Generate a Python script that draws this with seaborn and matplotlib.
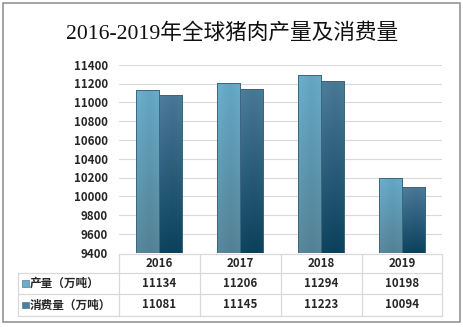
import numpy as np
import pandas as pd
import matplotlib
matplotlib.use("Agg")
import matplotlib.pyplot as plt
from matplotlib.colors import to_rgb
from matplotlib.patches import Rectangle
from matplotlib.lines import Line2D
from matplotlib.transforms import blended_transform_factory
import seaborn as sns

# ---- data ----
years = ['2016', '2017', '2018', '2019']
series_names = ['产量（万吨）', '消费量（万吨）']
production = [11134, 11206, 11294, 10198]
consumption = [11081, 11145, 11223, 10094]
y_ticks = [9400, 9600, 9800, 10000, 10200, 10400, 10600, 10800, 11000, 11200, 11400]
title = '2016-2019年全球猪肉产量及消费量'

df = pd.DataFrame({
    'year': years * 2,
    'series': [series_names[0]] * 4 + [series_names[1]] * 4,
    'value': production + consumption,
})

sns.set_theme(style='white')
plt.rcParams['font.family'] = ['Noto Sans CJK SC', 'DejaVu Sans']

W, H = 464, 327
fig = plt.figure(figsize=(W / 100, H / 100), dpi=100)

def fx(px):
    return px / W

def fy(py):
    return 1 - py / H

ax_left, ax_right, ax_top, ax_bottom = 119, 442.3, 64.7, 252.7
ax = fig.add_axes([fx(ax_left), fy(ax_bottom), (ax_right - ax_left) / W, (ax_bottom - ax_top) / H])

c1_top, c1_bot = '#6AB0CE', '#58889D'
c2_top, c2_bot = '#4D7E9D', '#0C4460'

sns.barplot(data=df, x='year', y='value', hue='series', hue_order=series_names,
            palette=[c1_top, c2_top], width=0.57, gap=0, ax=ax, legend=False,
            edgecolor='#3E667A', linewidth=0.7, saturation=1, zorder=3)

ymin, ymax = y_ticks[0], y_ticks[-1]
grads = [(c1_top, c1_bot), (c2_top, c2_bot)]
for cont, (ct, cb) in zip(ax.containers, grads):
    t = np.array(to_rgb(ct)); b = np.array(to_rgb(cb))
    f = np.linspace(0, 1, 64)[:, None]
    col = t * (1 - f) + b * f
    img = np.repeat(col[:, None, :], 8, axis=1)
    hx = np.linspace(0, 1, 8)
    shade = 1 - 0.06 * (1 - np.abs(hx - 0.6) / 0.6)
    img = np.clip(img * shade[None, :, None], 0, 1)
    for p in cont.patches:
        x0 = p.get_x(); w = p.get_width(); h = p.get_height()
        im = ax.imshow(img, extent=[x0, x0 + w, ymin, h], aspect='auto',
                       origin='upper', zorder=3.5, interpolation='bilinear')
        im.set_clip_path(p)
        p.set_facecolor('none')
        p.set_zorder(4)

ax.set_xlim(-0.5, 3.5)
ax.set_ylim(ymin, ymax)
ax.set_yticks(y_ticks)
ax.set_yticklabels([str(v) for v in y_ticks], fontsize=8.3, color='#262626', fontweight='bold')
ax.tick_params(axis='y', length=0, pad=8)
ax.set_xticks([])
ax.set_xlabel('')
ax.set_ylabel('')
ax.yaxis.grid(True, color='#D9D9D9', linewidth=0.8)
ax.set_axisbelow(True)
for s in ax.spines.values():
    s.set_visible(False)

# ---- data table below ----
tr = blended_transform_factory(ax.transData, fig.transFigure)
line_c = '#D9D9D9'
y_head_top, y_r1, y_r2, y_bot = 254, 273.3, 294, 316
tab_left = 18
col_edges = [ax_left, 200.3, 281, 361.7, ax_right]

def hline(y, x0, x1):
    fig.add_artist(Line2D([fx(x0), fx(x1)], [fy(y), fy(y)], color=line_c, lw=0.9))

def vline(x, y0, y1):
    fig.add_artist(Line2D([fx(x), fx(x)], [fy(y0), fy(y1)], color=line_c, lw=0.9))

hline(y_head_top, ax_left, ax_right)
for y in (y_r1, y_r2, y_bot):
    hline(y, tab_left, ax_right)
vline(tab_left, y_r1, y_bot)
for x in col_edges:
    vline(x, y_head_top, y_bot)

txt_kw = dict(fontsize=8.3, color='#262626', fontweight='bold', ha='center', va='center')
for i, yr in enumerate(years):
    fig.text(i, fy((y_head_top + y_r1) / 2), yr, transform=tr, **txt_kw)
    fig.text(i, fy((y_r1 + y_r2) / 2), str(production[i]), transform=tr, **txt_kw)
    fig.text(i, fy((y_r2 + y_bot) / 2), str(consumption[i]), transform=tr, **txt_kw)

for (name, col), (ya, yb) in zip(zip(series_names, [c1_top, c2_top]), [(y_r1, y_r2), (y_r2, y_bot)]):
    yc = (ya + yb) / 2
    fig.add_artist(Rectangle((fx(22.5), fy(yc + 3.2)), 6.5 / W, 6.5 / H,
                             facecolor=col, edgecolor='#3E667A', lw=0.4,
                             transform=fig.transFigure))
    fig.text(fx(30), fy(yc), name, fontsize=8.4, color='#262626', fontweight='bold',
             ha='left', va='center')

# ---- title ----
fig.text(0.5, fy(34), title, fontsize=15.6, color='#111111', ha='center', va='center',
         family=['Liberation Serif', 'Noto Sans CJK SC'])

# ---- outer border ----
fig.add_artist(Rectangle((fx(2.5), fy(321.5)), (460 - 2.5) / W, (321.5 - 2.5) / H,
                         facecolor='none', edgecolor='#8C8C8C', lw=1.1,
                         transform=fig.transFigure))

fig.savefig('out.png', dpi=100)
